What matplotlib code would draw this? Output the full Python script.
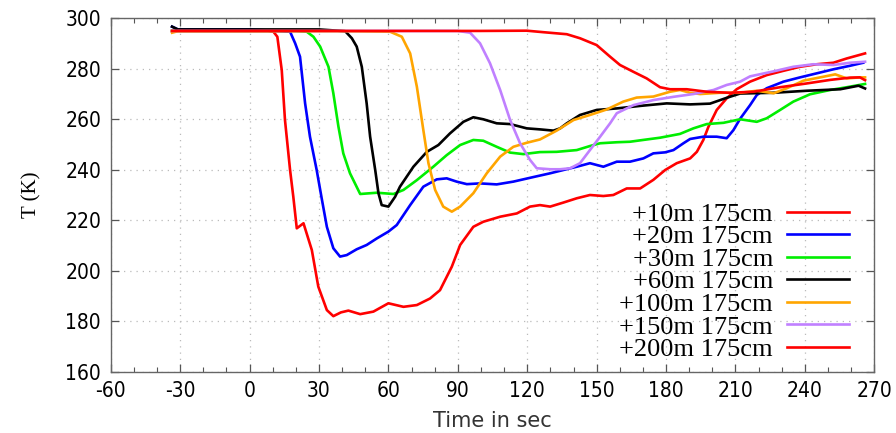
import numpy as np
import matplotlib
matplotlib.use('Agg')
import matplotlib.pyplot as plt
from matplotlib import font_manager
from matplotlib.ticker import MultipleLocator

plt.rcParams['axes.unicode_minus'] = False

# Temperaturverlauf der Sonden (Zeit in s, Temperatur in K)
t_10 = [-33.5, -20, 0, 8, 10.3, 12, 13.9, 15.3, 17.5, 18.9, 20.4, 23.3, 26.9, 29.7, 33.4, 36.2, 39.5,
        42.7, 47.8, 53.5, 60, 66.5, 72.3, 78, 82.3, 87.4, 91, 96.7, 101, 108.3, 115.5, 121.2, 125.5,
        129.9, 135.6, 141.4, 147.1, 152.9, 157.2, 163, 168.8, 174.5, 179.6, 184.6, 190.4, 193.3, 196.1,
        198.3, 201.9, 206.2, 210.5, 216.3, 223.5, 230.7, 237.9, 245.1, 252.3, 258.1, 266]
T_10 = [295.0, 295.0, 295.0, 295.0, 294.7, 292.7, 279.5, 259.7, 239.9, 229.3, 216.8, 218.8, 208.2, 193.7,
        184.4, 182.0, 183.5, 184.2, 182.8, 183.8, 187.1, 185.7, 186.4, 189, 192.3, 201.6, 210.2, 217.4,
        219.4, 221.4, 222.7, 225.4, 226, 225.4, 227, 228.7, 230, 229.6, 230, 232.6, 232.6, 236, 239.9,
        242.6, 244.5, 247.1, 251.8, 257, 263.7, 268.3, 271.9, 274.9, 277.5, 279.2, 280.8, 281.8, 282.4,
        284.1, 286.1]

t_20 = [-33.5, -31, -20, 0, 17.5, 19.7, 21.8, 24, 26.1, 29, 31.2, 33.4, 36.2, 39.1, 42, 46.3, 50.6, 55,
        60, 63.6, 69.4, 75.1, 80.9, 85.2, 89.5, 93.9, 99.6, 106.8, 114, 122.6, 129.9, 135.6, 141.4, 147.1,
        152.9, 158.7, 164.4, 170.2, 174.5, 179.6, 183.2, 187.5, 190.4, 196.1, 201.9, 206.2, 209.1, 212,
        216.3, 219.2, 223.5, 230.7, 237.9, 245.1, 252.3, 259.5, 265.2]
T_20 = [296.7, 295.6, 295.6, 295.6, 294.7, 290.1, 284.8, 266.3, 253.1, 239.9, 228.5, 217.4, 208.9, 205.6,
        206.2, 208.5, 210.2, 212.8, 215.5, 218.1, 226, 233.3, 236.2, 236.6, 235.3, 234.3, 234.6, 234.2,
        235.3, 237.1, 238.6, 239.9, 241.2, 242.6, 241.2, 243.2, 243.2, 244.5, 246.5, 246.9, 247.8, 250.5,
        252.2, 253.1, 253.1, 252.5, 255.7, 260.2, 265.6, 269.6, 272.3, 274.9, 276.6, 278.2, 279.8, 281.2,
        282.4]

t_30 = [-33.5, 0, 20, 24.7, 27.6, 30.5, 34.1, 36.2, 38.4, 40.5, 43.4, 47.8, 55, 62.2, 66.5, 72.3, 79.4,
        85.2, 91, 96.7, 101, 106.8, 112.6, 118.3, 125.5, 132.7, 141.4, 147.1, 151.5, 158.7, 164.4, 170,
        177.4, 186, 191.8, 197.6, 204.8, 212, 219.2, 223.5, 229.3, 235, 242.2, 250.9, 258.1, 266]
T_30 = [295.0, 295.0, 295.0, 294.7, 292.7, 288.8, 280.8, 270.3, 257.1, 246.5, 238.6, 230.4, 230.9, 230.4,
        232, 235.9, 241.2, 245.8, 249.8, 251.8, 251.5, 249.1, 246.8, 246.2, 247, 247.1, 247.8, 249.4,
        250.5, 250.9, 251.1, 251.8, 252.7, 254.2, 256.4, 258.1, 258.6, 260, 259, 260.4, 263.7, 267,
        269.9, 271.6, 272.7, 274]

t_60 = [-33.5, -31, 0, 30, 41.3, 44.2, 46.3, 48.5, 50.6, 52.1, 54.3, 55.7, 57.1, 60, 62.9, 65, 70.8,
        76.6, 81.6, 86.6, 92.4, 96.7, 101, 106.8, 112.6, 119.8, 125.5, 131.3, 134.2, 137.1, 142.8, 150,
        158.7, 168.8, 180.3, 190.4, 199, 206.2, 212, 226.5, 240.8, 255.3, 263.2, 266]
T_60 = [296.7, 295.6, 295.6, 295.6, 294.9, 292.1, 288.8, 280.8, 266.3, 253.1, 239.9, 230.7, 226, 225.4,
        229.3, 233.3, 241.2, 247.1, 249.8, 254.4, 259, 260.8, 260, 258.4, 258.1, 256.4, 256, 255.5, 256.4,
        258.4, 261.7, 263.7, 264.3, 265.3, 266.3, 265.9, 266.2, 268.5, 270.2, 270.5, 271.3, 271.9, 273.3,
        272.2]

t_100 = [-33.5, -31, 0, 40, 60.7, 65.8, 69.4, 72.3, 75.1, 77.3, 80.2, 83.7, 87.4, 91, 96.7, 102.5, 108.3,
         114, 119.8, 125.5, 132.7, 140, 147.1, 154.4, 161.5, 167.3, 174.5, 181.7, 186, 190.4, 194.7,
         203.3, 212, 219.2, 226.5, 232.2, 239.4, 246.6, 253.1, 258.1, 263.8, 266]
T_100 = [294.3, 294.9, 294.9, 294.9, 294.7, 292.7, 286.1, 272.9, 255.7, 242.6, 232, 225.4, 223.4, 225.4,
         230.7, 238.6, 245.2, 249.1, 250.7, 252, 255.5, 259.7, 261.7, 263.9, 267, 268.6, 269, 270.9,
         271.6, 270.5, 270, 270.5, 270.5, 271.3, 270.3, 272.3, 275.3, 276.6, 277.8, 276.2, 276.6, 276.6]

t_150 = [-33.5, 0, 50, 90, 95.3, 99.6, 103.9, 108.3, 112.6, 116.9, 121.2, 124.1, 129.9, 134.2, 138.6,
         142.8, 147.1, 151.5, 155.8, 158.7, 165.9, 174.5, 183.2, 191.8, 200.5, 206.2, 212, 216.3, 226.5,
         235, 243.7, 252.3, 259.5, 266]
T_150 = [295.0, 295.0, 295.0, 295.0, 294.3, 290.1, 282.2, 271.6, 259.7, 250.5, 243.9, 240.6, 240.2, 240.2,
         240.6, 242.6, 247.8, 253.1, 258.4, 262.4, 265.6, 267.6, 268.9, 270, 271.6, 273.6, 274.9, 277,
         279, 280.8, 281.8, 281.5, 282.4, 282.8]

t_200 = [-33.5, 0, 50, 99.6, 119.8, 127, 137.1, 142.8, 150, 155.8, 160.1, 165.9, 171.6, 177.4, 181.7,
         188.9, 197.6, 207.6, 217.7, 229.3, 240.8, 250.9, 259.5, 263.8, 266]
T_200 = [295.0, 295.0, 295.0, 295.0, 295.1, 294.5, 293.7, 292.1, 289.4, 284.8, 281.5, 278.8, 276.2, 272.7,
         271.9, 271.9, 270.9, 270.5, 270.9, 272.7, 274.2, 275.6, 276.5, 276.6, 275.5]

labels = ['+10m 175cm', '+20m 175cm', '+30m 175cm', '+60m 175cm',
          '+100m 175cm', '+150m 175cm', '+200m 175cm']
colors = ['#ff0000', '#0000ff', '#00ee00', '#000000', '#ffa500', '#c080ff', '#ff0000']
series = [(t_10, T_10), (t_20, T_20), (t_30, T_30), (t_60, T_60),
          (t_100, T_100), (t_150, T_150), (t_200, T_200)]


def narrow_font(size):
    # schmale Schrift fuer die Achsenbeschriftung, falls vorhanden
    skip = ('bold', 'oblique', 'italic', 'light', 'thin', 'black', 'medium', 'semi', 'extra')
    found = []
    for f in font_manager.findSystemFonts():
        name = f.split('/')[-1].lower()
        if ('narrow' in name or 'condensed' in name) and 'sans' in name \
                and not any(k in name for k in skip):
            found.append(f)
    if found:
        found.sort(key=lambda f: ('dejavu' not in f.lower(), f))
        return font_manager.FontProperties(fname=found[0], size=size)
    return font_manager.FontProperties(family='Liberation Sans', size=size, stretch='condensed')


fig = plt.figure(figsize=(8.96, 4.33), dpi=100)
ax = fig.add_axes([0.1236, 0.1416, 0.8522, 0.8161])

for (t, T), lab, c in zip(series, labels, colors):
    ax.plot(t, T, color=c, lw=1.9, label=lab)

ax.set_xlim(-60, 270)
ax.set_ylim(160, 300)
ax.xaxis.set_major_locator(MultipleLocator(30))
ax.xaxis.set_minor_locator(MultipleLocator(10))
ax.yaxis.set_major_locator(MultipleLocator(20))

ax.grid(True, which='major', color='#bbbbbb', linestyle=(0, (1, 4)), lw=0.9)

for s in ax.spines.values():
    s.set_color('#666666')
    s.set_linewidth(1.0)
ax.tick_params(which='both', direction='in', top=True, right=True, color='#555555')
ax.tick_params(which='major', length=6, width=0.9, pad=7)
ax.tick_params(which='minor', length=3.5, width=0.8)

fp = narrow_font(15)
for lbl in ax.get_xticklabels() + ax.get_yticklabels():
    lbl.set_fontproperties(fp)

ax.set_xlabel('Time in sec', fontsize=15, family=['DejaVu Sans'], color='#333333', labelpad=7)
ax.set_ylabel('T (K)', fontsize=15, family=['Liberation Serif'], labelpad=17)

leg = ax.legend(loc='lower right', frameon=False, markerfirst=False,
                prop={'family': 'Liberation Serif', 'size': 19},
                handlelength=2.35, handletextpad=0.53, labelspacing=-0.035,
                borderaxespad=0.0, bbox_to_anchor=(0.9806, 0.0))

fig.savefig('out.png', dpi=100)
